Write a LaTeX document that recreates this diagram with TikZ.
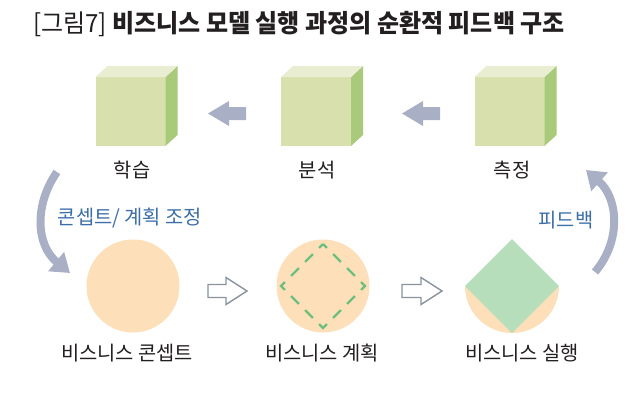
\documentclass[tikz,border=0pt]{standalone}
\usepackage{fontspec}
\setmainfont{Noto Sans CJK KR}
\usetikzlibrary{arrows.meta}
\definecolor{ink}{HTML}{231F20}
\definecolor{frontc}{HTML}{D8E1AD}
\definecolor{sidec}{HTML}{A9C97B}
\definecolor{topc}{HTML}{E9EED2}
\definecolor{peach}{HTML}{FDDFB9}
\definecolor{leaf}{HTML}{B7DEBB}
\definecolor{dashg}{HTML}{6CBF7E}
\definecolor{arrowc}{HTML}{A9B0C6}
\definecolor{outl}{HTML}{8A929E}
\definecolor{bluet}{HTML}{3C6EA7}
\begin{document}
\begin{tikzpicture}[x=1pt,y=-1pt,
  lbl/.style={text=ink,font=\fontsize{19.8}{22}\selectfont,inner sep=0pt},
  bluelbl/.style={text=bluet,font=\fontsize{19.8}{22}\selectfont,inner sep=0pt},
  blockarrow/.style={fill=arrowc,draw=none},
  hollowarrow/.style={fill=white,draw=outl,line width=1.4pt,line join=miter},
  curvearrow/.style={draw=arrowc,line width=8pt,-{Triangle[length=18pt,width=24pt]}},
  cube/.pic={
    \fill[frontc] (-35,-34.5) rectangle (35,34.5);
    \fill[sidec] (35,-34.5) -- (47,-45.5) -- (47,23.5) -- (35,34.5) -- cycle;
    \fill[topc] (-35,-34.5) -- (-23,-45.5) -- (47,-45.5) -- (35,-34.5) -- cycle;
  }]
\useasboundingbox (0,0) rectangle (640,400);
\fill[white] (0,0) rectangle (640,400);

% title
\node[anchor=west,inner sep=0pt,text=ink] (title) at (33,24)
  {\scalebox{0.96}[1]{\fontsize{25}{28}\selectfont [그림7] \textbf{비즈니스 모델 실행 과정의 순환적 피드백 구조}}};

% cubes
\pic at (130.5,111.5) {cube};
\pic at (316,111.5) {cube};
\pic at (509.5,111.5) {cube};
\coordinate (c1) at (130.5,111.5);
\coordinate (c2) at (316,111.5);
\coordinate (c3) at (509.5,111.5);

\node[lbl] (l1) at (132,170) {학습};
\node[lbl] (l2) at (317,170) {분석};
\node[lbl] (l3) at (512,170) {측정};

% filled block arrows (pointing left)
\fill[blockarrow] (208,113.5) -- (229,101) -- (229,107) -- (246,107) -- (246,120) -- (229,120) -- (229,126) -- cycle;
\fill[blockarrow] (402,113.5) -- (423,101) -- (423,107) -- (440,107) -- (440,120) -- (423,120) -- (423,126) -- cycle;

% circles
\fill[peach] (133,286) circle[radius=46.5];
\fill[peach] (323,286) circle[radius=46.5];
\draw[dashg,line width=2.4pt,dash pattern=on 11pt off 8.8pt,dash phase=5.5pt]
  (323,244) -- (365,286) -- (323,328) -- (281,286) -- cycle;
\fill[peach] (465,286) arc[start angle=180,end angle=0,radius=47] -- cycle;
\fill[leaf] (512,239) -- (559,286) -- (512,333) -- (465,286) -- cycle;
\coordinate (k1) at (133,286);
\coordinate (k2) at (323,286);
\coordinate (k3) at (512,286);

\node[lbl] (b1) at (127,353) {비스니스 콘셉트};
\node[lbl] (b2) at (322,353) {비스니스 계획};
\node[lbl] (b3) at (522,353) {비스니스 실행};

% hollow arrows (pointing right)
\draw[hollowarrow] (208,284.5) -- (226,284.5) -- (226,277.5) -- (247,291) -- (226,304.5) -- (226,297.5) -- (208,297.5) -- cycle;
\draw[hollowarrow] (402,284.5) -- (421,284.5) -- (421,277.5) -- (442,291) -- (421,304.5) -- (421,297.5) -- (402,297.5) -- cycle;

% curved arrows
\coordinate (s1) at (57,172);
\coordinate (e1) at (70,273);
\draw[curvearrow] (s1) .. controls (34,205) and (36,245) .. (e1);
\coordinate (s2) at (595,272);
\coordinate (e2) at (586,170);
\draw[curvearrow] (s2) .. controls (622,240) and (618,198) .. (e2);

\node[bluelbl] (fb1) at (130,218) {콘셉트/ 계획 조정};
\node[bluelbl] (fb2) at (566,220) {피드백};
\end{tikzpicture}
\end{document}
